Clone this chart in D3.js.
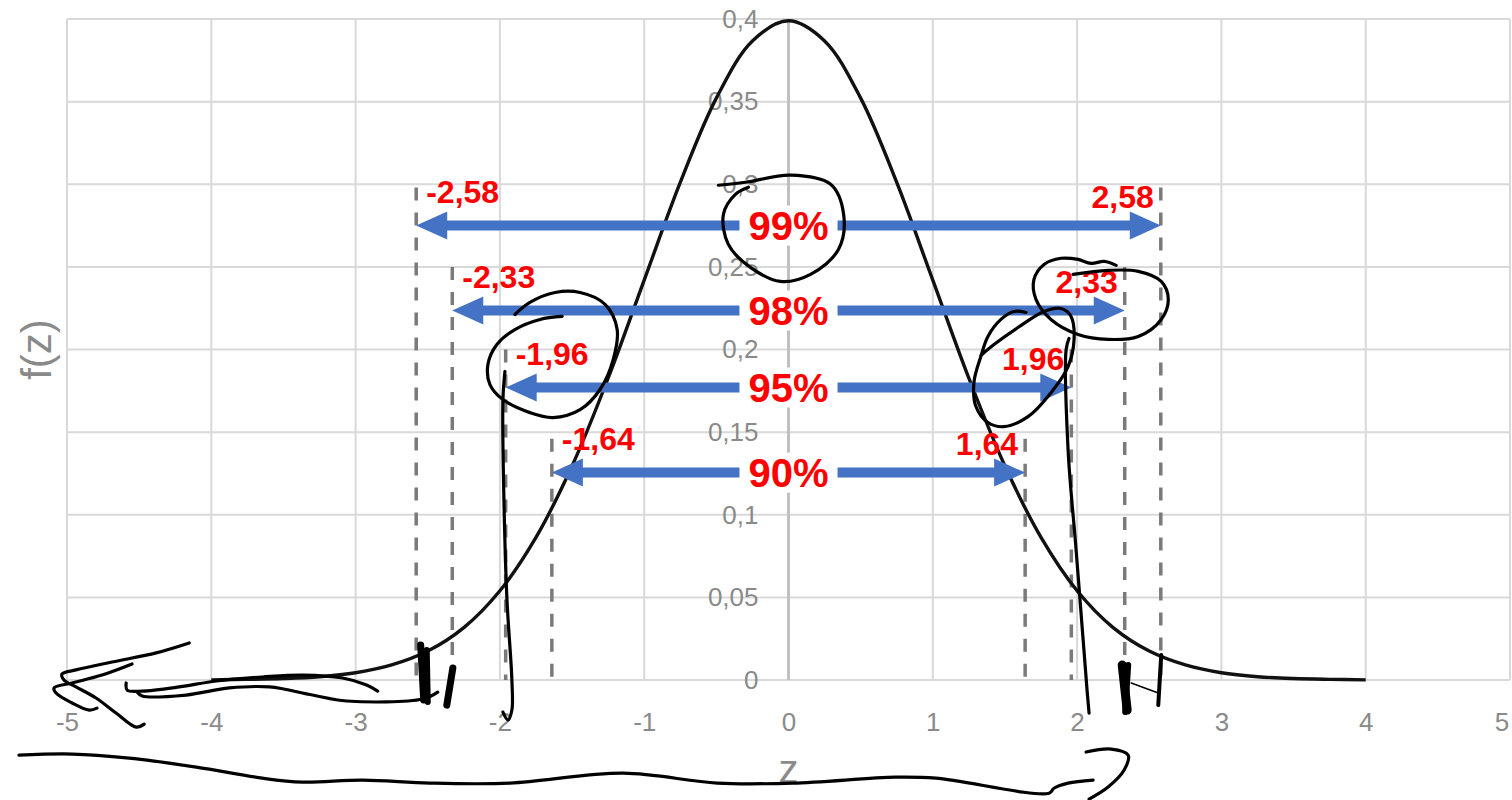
<!DOCTYPE html>
<html>
<head>
<meta charset="utf-8">
<script src="https://cdn.jsdelivr.net/npm/d3@7/dist/d3.min.js"></script>
<style>
  html, body { margin: 0; padding: 0; background: #ffffff; }
  svg { display: block; }
  text { font-family: "Liberation Sans", Arial, sans-serif; }
</style>
</head>
<body>
<svg id="chart" width="1512" height="800"></svg>
<script>
// Standard normal density f(z), sampled every 0.25
const curveZ = [-4, -3.75, -3.5, -3.25, -3, -2.75, -2.5, -2.25, -2, -1.75, -1.5, -1.25, -1, -0.75, -0.5, -0.25,
                0, 0.25, 0.5, 0.75, 1, 1.25, 1.5, 1.75, 2, 2.25, 2.5, 2.75, 3, 3.25, 3.5, 3.75, 4];
const curveF = [0.0001, 0.0004, 0.0009, 0.0020, 0.0044, 0.0091, 0.0175, 0.0317, 0.0540, 0.0863, 0.1295, 0.1826, 0.2420, 0.3011, 0.3521, 0.3867,
                0.3989, 0.3867, 0.3521, 0.3011, 0.2420, 0.1826, 0.1295, 0.0863, 0.0540, 0.0317, 0.0175, 0.0091, 0.0044, 0.0020, 0.0009, 0.0004, 0.0001];

// Confidence levels and their critical z values
const levels = ["90%", "95%", "98%", "99%"];
const zCrit = [1.64, 1.96, 2.33, 2.58];
const arrowF = [0.1255, 0.177, 0.2236, 0.275];     // height of each double arrow
const guideTopF = [0.146, 0.200, 0.250, 0.298];    // top of each dashed guide

// Axis ticks
const xTicks = [-5, -4, -3, -2, -1, 0, 1, 2, 3, 4, 5];
const yTicks = [0, 0.05, 0.1, 0.15, 0.2, 0.25, 0.3, 0.35, 0.4];

// Pen annotations, in (z, f) units
const inkStrokes = [
  { w: 3.2, pts: [[-0.486,0.2994],[-0.299,0.3012],[0.014,0.3055],[0.292,0.300],[0.382,0.2818],[0.347,0.2606],[0.153,0.2455],[-0.056,0.2412],[-0.264,0.2497],[-0.417,0.2636],[-0.451,0.2818],[-0.368,0.2939],[-0.278,0.2982]] },
  { w: 3.2, pts: [[2.271,0.2509],[2.188,0.2533],[2.097,0.2521],[2.007,0.2545],[1.889,0.2552],[1.771,0.2515],[1.701,0.2424],[1.715,0.2303],[1.819,0.2182],[2.007,0.2091],[2.215,0.2061],[2.424,0.2079],[2.583,0.2182],[2.632,0.2303],[2.583,0.2412],[2.424,0.2473],[2.215,0.2479],[1.972,0.2455]] },
  { w: 3.2, pts: [[1.646,0.2224],[1.5625,0.2230],[1.472,0.2182],[1.382,0.2079],[1.333,0.1958],[1.285,0.180],[1.299,0.1655],[1.382,0.1558],[1.493,0.1533],[1.660,0.1594],[1.819,0.1739],[1.9375,0.1897],[1.979,0.2061],[1.958,0.2200],[1.889,0.2248],[1.771,0.2230],[1.590,0.2133],[1.424,0.2030],[1.333,0.1964]] },
  { w: 3.2, pts: [[1.944,0.2067],[1.924,0.200],[1.9375,0.1394],[1.993,0.0788],[2.042,0.0242],[2.069,-0.0061],[2.083,-0.020]] },
  { w: 3.2, pts: [[-1.569,0.2200],[-1.722,0.2182],[-1.896,0.2121],[-2.021,0.2030],[-2.083,0.1909],[-2.069,0.1788],[-1.979,0.1697],[-1.792,0.1618],[-1.632,0.1588],[-1.444,0.1636],[-1.306,0.1758],[-1.215,0.1939],[-1.1875,0.2121],[-1.271,0.2273],[-1.444,0.2345],[-1.618,0.2345],[-1.792,0.2285],[-1.896,0.2212]] },
  { w: 3.2, pts: [[-1.965,0.1867],[-1.979,0.1697],[-1.972,0.1091],[-1.951,0.0485],[-1.917,0.000],[-1.917,-0.0182],[-1.944,-0.0242],[-1.979,-0.0194]] },
  { w: 3.2, pts: [[-4.153,0.0224],[-4.382,0.0164],[-4.6875,0.0109],[-4.9375,0.0061],[-5.035,0.0036],[-5.021,0.000],[-4.9375,-0.0042],[-4.799,-0.0109],[-4.660,-0.020],[-4.521,-0.0285],[-4.465,-0.0267]] },
  { w: 3.2, pts: [[-4.549,0.0097],[-4.757,0.003],[-4.965,-0.0018],[-5.090,-0.0048],[-5.076,-0.0079],[-4.965,-0.0139],[-4.847,-0.0182],[-4.792,-0.0170]] },
  { w: 3.2, pts: [[-4.590,-0.0018],[-4.583,-0.0061],[-4.479,-0.0067],[-4.222,-0.0042],[-3.965,-0.0006],[-3.646,0.0018],[-3.368,0.003],[-3.090,0.0012],[-2.924,-0.003],[-2.847,-0.0067]] },
  { w: 3.2, pts: [[-4.514,-0.0073],[-4.479,-0.0097],[-4.174,-0.0091],[-3.875,-0.0048],[-3.597,-0.0042],[-3.299,-0.0091],[-3.0625,-0.0127],[-2.535,-0.0115],[-2.431,-0.0073]] },
  { w: 7, pts: [[-2.549,0.0212],[-2.528,-0.0121]] },
  { w: 6, pts: [[-2.507,0.0182],[-2.500,-0.0133]] },
  { w: 7, pts: [[-2.326,0.0073],[-2.368,-0.0152]] },
  { w: 9, pts: [[2.3125,0.0091],[2.347,-0.0182]] },
  { w: 6, pts: [[2.354,0.0091],[2.333,-0.0194]] },
  { w: 4, pts: [[2.583,0.0152],[2.5625,-0.0152]] },
  { w: 1.5, pts: [[2.375,-0.0018],[2.5625,-0.0079]] },
  { w: 3.2, pts: [[-5.333,-0.0455],[-4.965,-0.0448],[-4.569,-0.0473],[-4.104,-0.0527],[-3.646,-0.0594],[-3.368,-0.0618],[-2.951,-0.0606],[-2.486,-0.0624],[-1.931,-0.0624],[-1.146,-0.0564],[-0.493,-0.0624],[0.028,-0.0624],[0.743,-0.0588],[1.021,-0.0594],[1.806,-0.0685],[1.840,-0.0655],[1.9375,-0.0624],[2.111,-0.0606]] },
  { w: 3.2, pts: [[2.0625,-0.0436],[2.236,-0.0418],[2.354,-0.0455],[2.326,-0.0545],[2.215,-0.0648],[2.083,-0.0721]] }
];

const svg = d3.select("#chart");
const x = d3.scaleLinear().domain([-5, 5]).range([67, 1510]);
const y = d3.scaleLinear().domain([0, 0.4]).range([680, 19]);

const locale = d3.formatLocale({ decimal: ",", thousands: ".", grouping: [3], currency: ["", ""], minus: "-" });
const fmtTick = locale.format(".2~f");
const fmtCrit = locale.format(".2f");

const gray = "#8a8a8a";

// Gridlines
const grid = svg.append("g");
grid.selectAll("line.v").data(xTicks).join("line")
  .attr("x1", d => x(d)).attr("x2", d => x(d))
  .attr("y1", y(0.4)).attr("y2", y(0))
  .attr("stroke", "#d9d9d9").attr("stroke-width", 2);
grid.selectAll("line.h").data(yTicks).join("line")
  .attr("x1", x(-5)).attr("x2", x(5))
  .attr("y1", d => y(d)).attr("y2", d => y(d))
  .attr("stroke", "#d9d9d9").attr("stroke-width", 2);
// Vertical axis line through z = 0
svg.append("line")
  .attr("x1", x(0)).attr("x2", x(0)).attr("y1", y(0.4)).attr("y2", y(0))
  .attr("stroke", "#c0c0c0").attr("stroke-width", 3);

// Axes (labels only)
const xAxis = svg.append("g").attr("transform", `translate(0,${y(0)})`)
  .call(d3.axisBottom(x).tickValues(xTicks).tickFormat(fmtTick).tickSize(0).tickPadding(33));
const yAxis = svg.append("g").attr("transform", `translate(${x(0)},0)`)
  .call(d3.axisLeft(y).tickValues(yTicks).tickFormat(fmtTick).tickSize(0).tickPadding(30));
[xAxis, yAxis].forEach(g => {
  g.select(".domain").remove();
  g.selectAll("text").attr("fill", gray).style("font-size", "26px")
    .style("font-family", "'Liberation Sans', Arial, sans-serif");
});
// keep the last x label inside the frame
xAxis.selectAll(".tick").filter(d => d === xTicks[xTicks.length - 1])
  .select("text").attr("text-anchor", "end").attr("dx", "-0.05em");

// Axis titles
svg.append("text")
  .attr("transform", `translate(51,${y(0.2)}) rotate(-90)`)
  .attr("text-anchor", "middle").attr("fill", gray)
  .style("font-size", "42px").text("f(z)");
svg.append("text")
  .attr("x", x(0)).attr("y", 783)
  .attr("text-anchor", "middle").attr("fill", gray)
  .style("font-size", "40px").text("z");

// Dashed guides at ±z critical
const guides = [];
zCrit.forEach((z, i) => { guides.push({ z: -z, top: guideTopF[i] }, { z: z, top: guideTopF[i] }); });
svg.append("g").selectAll("line").data(guides).join("line")
  .attr("x1", d => x(d.z)).attr("x2", d => x(d.z))
  .attr("y1", d => y(d.top)).attr("y2", y(0))
  .attr("stroke", "#7a7a7a").attr("stroke-width", 3.5)
  .attr("stroke-dasharray", "13,12");

// Density curve
const curvePts = curveZ.map((z, i) => [z, curveF[i]]);
svg.append("path")
  .datum(curvePts)
  .attr("fill", "none").attr("stroke", "#111").attr("stroke-width", 3.4)
  .attr("d", d3.line().x(d => x(d[0])).y(d => y(d[1])).curve(d3.curveCatmullRom));

// Double arrows
const blue = "#4472C4";
const headLen = 31, headHalf = 14, shaft = 10;
const arrows = svg.append("g");
zCrit.forEach((z, i) => {
  const yy = y(arrowF[i]);
  const xl = x(-z), xr = x(z);
  arrows.append("line")
    .attr("x1", xl + headLen - 2).attr("x2", xr - headLen + 2)
    .attr("y1", yy).attr("y2", yy)
    .attr("stroke", blue).attr("stroke-width", shaft);
  arrows.append("path").attr("fill", blue)
    .attr("d", `M${xl},${yy}L${xl + headLen},${yy - headHalf}L${xl + headLen},${yy + headHalf}Z`);
  arrows.append("path").attr("fill", blue)
    .attr("d", `M${xr},${yy}L${xr - headLen},${yy - headHalf}L${xr - headLen},${yy + headHalf}Z`);
});

// Critical value labels
const red = "#ff0000";
const labels = svg.append("g").style("font-weight", "bold").style("font-size", "32px").attr("fill", red);
zCrit.forEach((z, i) => {
  const yy = y(arrowF[i]);
  labels.append("text").attr("x", x(-z) + 10).attr("y", yy - 23).attr("text-anchor", "start").text(fmtCrit(-z));
  labels.append("text").attr("x", x(z) - 7).attr("y", yy - 18).attr("text-anchor", "end").text(fmtCrit(z));
});

// Level labels on white boxes
const pct = svg.append("g");
levels.forEach((lv, i) => {
  const yy = y(arrowF[i]);
  const g = pct.append("g");
  const t = g.append("text")
    .attr("x", x(0)).attr("y", yy)
    .attr("text-anchor", "middle").attr("dominant-baseline", "central")
    .attr("fill", red).style("font-weight", "bold").style("font-size", "40px")
    .text(lv);
  const bb = t.node().getBBox();
  g.insert("rect", "text")
    .attr("x", bb.x - 9).attr("y", yy - 20).attr("width", bb.width + 18).attr("height", 40)
    .attr("fill", "#ffffff");
});

// Pen annotations
const inkLine = d3.line().x(d => x(d[0])).y(d => y(d[1])).curve(d3.curveCatmullRom.alpha(0.5));
svg.append("g").selectAll("path").data(inkStrokes).join("path")
  .attr("fill", "none").attr("stroke", "#000")
  .attr("stroke-width", d => d.w)
  .attr("stroke-linecap", "round").attr("stroke-linejoin", "round")
  .attr("d", d => inkLine(d.pts));
</script>
</body>
</html>
